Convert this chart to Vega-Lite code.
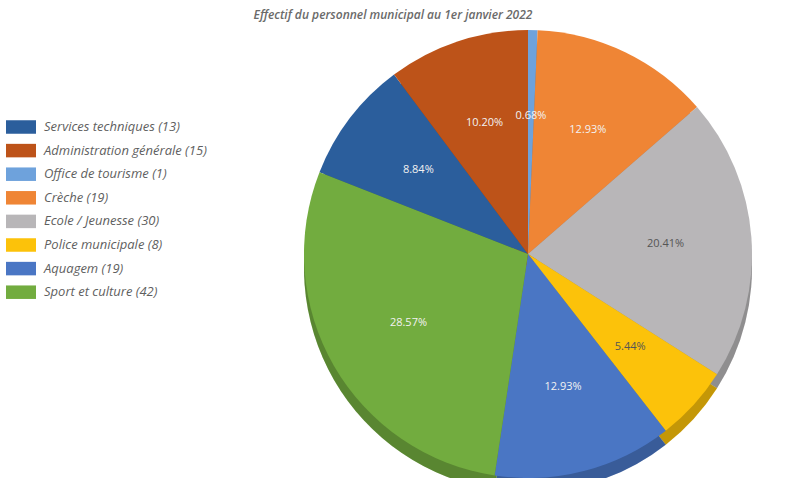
{
  "$schema": "https://vega.github.io/schema/vega-lite/v6.json",
  "width": 540,
  "height": 448,
  "autosize": {"type": "none"},
  "padding": {"left": 258, "top": 30, "right": 0, "bottom": 0},
  "background": "white",
  "title": {
    "text": "Effectif du personnel municipal au 1er janvier 2022",
    "font": "Open Sans",
    "fontStyle": "italic",
    "fontWeight": 600,
    "fontSize": 12,
    "color": "#6a6a6a",
    "anchor": "middle",
    "frame": "group",
    "dx": -135,
    "offset": 8
  },
  "data": {
    "values": [
      {"cat": "Services techniques (13)", "n": 13, "pct": "8.84%", "rank": 1},
      {"cat": "Administration générale (15)", "n": 15, "pct": "10.20%", "rank": 2},
      {"cat": "Office de tourisme (1)", "n": 1, "pct": "0.68%", "rank": 3},
      {"cat": "Crèche (19)", "n": 19, "pct": "12.93%", "rank": 4},
      {"cat": "Ecole / Jeunesse (30)", "n": 30, "pct": "20.41%", "rank": 5},
      {"cat": "Police municipale (8)", "n": 8, "pct": "5.44%", "rank": 6},
      {"cat": "Aquagem (19)", "n": 19, "pct": "12.93%", "rank": 7},
      {"cat": "Sport et culture (42)", "n": 42, "pct": "28.57%", "rank": 8}
    ]
  },
  "encoding": {
    "theta": {"field": "n", "type": "quantitative", "stack": true, "scale": {"range": [-1.1967, 5.0865]}},
    "order": {"field": "rank", "type": "quantitative"},
    "color": {
      "field": "cat",
      "type": "nominal",
      "sort": null,
      "scale": {
        "domain": ["Services techniques (13)", "Administration générale (15)", "Office de tourisme (1)", "Crèche (19)", "Ecole / Jeunesse (30)", "Police municipale (8)", "Aquagem (19)", "Sport et culture (42)"],
        "range": ["#2b5e9c", "#bd5319", "#6ea2dc", "#ef8535", "#b8b6b8", "#fcc20a", "#4a76c4", "#72ac3f"]
      },
      "legend": {
        "title": null,
        "orient": "none",
        "legendX": -252,
        "legendY": 82,
        "symbolType": "M-1,-0.45H1V0.45H-1Z",
        "symbolSize": 900,
        "symbolStrokeWidth": 0,
        "symbolOpacity": 1,
        "labelFont": "Open Sans",
        "labelFontStyle": "italic",
        "labelFontSize": 13,
        "labelColor": "#5f5f5f",
        "labelOffset": 8,
        "rowPadding": 1.6,
        "labelLimit": 300
      }
    }
  },
  "layer": [
    {"mark": {"type": "arc", "outerRadius": 224, "yOffset": 14}},
    {"mark": {"type": "arc", "outerRadius": 224, "yOffset": 14, "opacity": 0.22}, "encoding": {"color": {"value": "black"}}},
    {"mark": {"type": "arc", "outerRadius": 224}},
    {
      "mark": {"type": "text", "radius": 138, "font": "Open Sans", "fontSize": 11},
      "encoding": {
        "text": {"field": "pct"},
        "color": {
          "condition": {"test": "datum.rank === 5 || datum.rank === 6", "value": "#555555"},
          "value": "#f2f2f2"
        }
      }
    }
  ]
}
